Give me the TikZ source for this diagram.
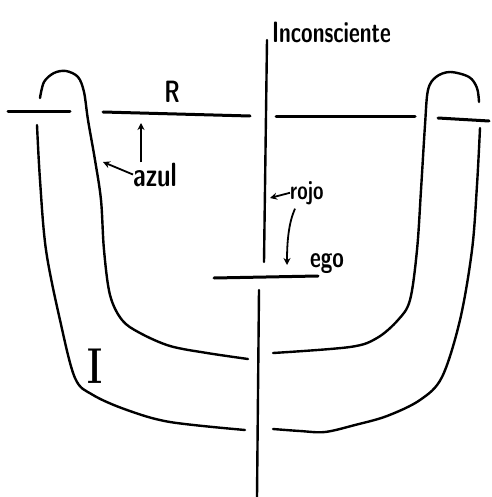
\documentclass[tikz,border=0pt]{standalone}
\usepackage{tikz}
\usetikzlibrary{arrows.meta}
\tikzset{
  stroke/.style={line width=2.4pt,line cap=round,line join=round},
  barline/.style={line width=3pt,line cap=round},
  pointer/.style={-{Stealth[length=7pt,width=7pt]},line width=1.8pt},
  handlabel/.style={inner sep=0pt,font=\sffamily\bfseries}
}
\newcommand{\handtext}[2]{\scalebox{1}[1.4]{\fontsize{#1}{#1}\selectfont #2}}

\begin{document}
\begin{tikzpicture}[x=1pt,y=-1pt]
  \useasboundingbox (0,0) rectangle (491,497);
  \foreach \xa/\ya/\xb/\yb in {8/112/70/112, 103/112/250/116, 276/117/415/117, 438/118/489/121}
    \draw[barline] (\xa,\ya) -- (\xb,\yb);
  \draw[stroke] (267,40) -- (264,262);
  \draw[barline] (214,278) -- (318,276);
  \draw[stroke] (259,290) -- (257,497);
  \draw[stroke] plot[smooth,tension=0.55] coordinates {(40,98) (44,82) (54,73) (66,71) (78,77) (84,92)
    (88,120) (95,160) (101,200) (104,250) (110,295) (122,320) (140,333) (170,346) (207,353) (248,359)};
  \draw[stroke] plot[smooth,tension=0.55] coordinates {(37,125) (40,180) (46,250) (60,320) (75,378)
    (93,395) (127,410) (170,422) (245,430)};
  \draw[stroke] plot[smooth,tension=0.55] coordinates {(479,102) (477,88) (469,77) (450,72) (436,77) (428,90)
    (425,125) (421,190) (417,250) (410,300) (398,320) (377,338) (350,347) (273,353)};
  \draw[stroke] plot[smooth,tension=0.55] coordinates {(480,128) (477,185) (472,250) (460,320) (442,377)
    (420,400) (387,416) (355,425) (325,432) (300,431) (273,429)};
  \node[handlabel,anchor=base west] (inconsciente) at (272,43) {\handtext{21}{Inconsciente}};
  \node[handlabel,anchor=base] (rlabel) at (172,103) {\handtext{22}{R}};
  \node[handlabel,anchor=base west] (azul) at (133,186) {\handtext{24}{azul}};
  \node[handlabel,anchor=base west] (rojo) at (290,199) {\handtext{19}{rojo}};
  \node[handlabel,anchor=base west] (ego) at (310,267) {\handtext{21}{ego}};
  \node[handlabel,anchor=base,font=\rmfamily\bfseries] (ilabel) at (95,383) {\handtext{36}{I}};
  \coordinate (rtop) at (141,123);
  \coordinate (ubend) at (103,162);
  \coordinate (rojoline) at (270,198);
  \coordinate (egotop) at (287,265);
  \draw[pointer] ([xshift=8pt]azul.north west) -- (rtop);
  \draw[pointer] (azul.west) -- (ubend);
  \draw[pointer] (rojo.west) -- (rojoline);
  \draw[pointer] (rojo.south west) ++(5,4) .. controls (289,222) and (287,240) .. (egotop);
\end{tikzpicture}
\end{document}
